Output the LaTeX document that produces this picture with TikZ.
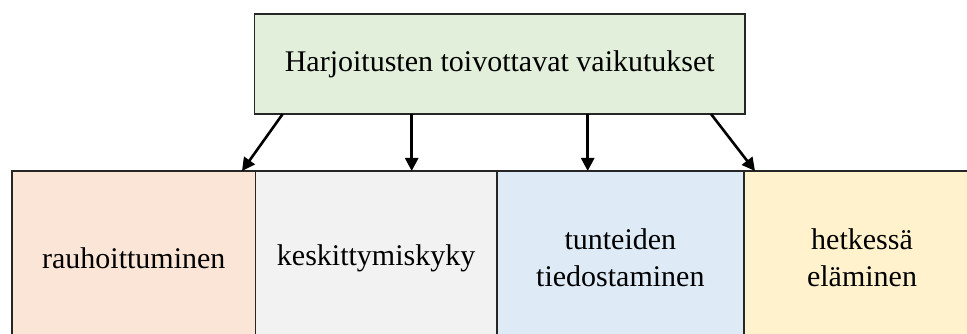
\documentclass[tikz,border=0pt]{standalone}
\usepackage{fontspec}
\setmainfont{Liberation Serif}
\usetikzlibrary{arrows.meta}
\definecolor{topgreen}{HTML}{E2EFDA}
\definecolor{cpink}{HTML}{FBE5D6}
\definecolor{cgray}{HTML}{F2F2F2}
\definecolor{cblue}{HTML}{DEEBF7}
\definecolor{cyellow}{HTML}{FFF2CC}
\begin{document}
\begin{tikzpicture}[x=1pt,y=-1pt,
  box/.style={draw=black!85, line width=1.8pt, inner sep=0pt, align=center,
    font=\fontsize{30}{37}\selectfont},
  arr/.style={line width=2.6pt, -{Triangle[length=13pt,width=13pt]}}]
\useasboundingbox (0,0) rectangle (967,334);
\clip (0,0) rectangle (967,334);
\fill[white] (0,0) rectangle (967,334);
\node[box, fill=topgreen, minimum width=490.5pt, minimum height=100pt] (top) at (499.75,64) {Harjoitusten toivottavat vaikutukset};
\node[box, fill=cpink, minimum width=243.5pt, minimum height=174pt] (b1) at (133.75,258) {rauhoittuminen};
\node[box, fill=cgray, minimum width=241.2pt, minimum height=174pt] (b2) at (376.1,258) {keskittymiskyky};
\node[box, fill=cblue, minimum width=247.3pt, minimum height=174pt] (b3) at (620.35,258) {tunteiden\\tiedostaminen};
\node[box, fill=cyellow, minimum width=236pt, minimum height=174pt] (b4) at (862,258) {hetkessä\\eläminen};
\coordinate (s1) at (282.7,114); \coordinate (e1) at (242,171);
\coordinate (s2) at (411.7,114); \coordinate (e2) at (411.7,171);
\coordinate (s3) at (587.7,114); \coordinate (e3) at (587.7,171);
\coordinate (s4) at (711,114); \coordinate (e4) at (755,171);
\draw[arr] (s1) -- (e1);
\draw[arr] (s2) -- (e2);
\draw[arr] (s3) -- (e3);
\draw[arr] (s4) -- (e4);
\end{tikzpicture}
\end{document}
